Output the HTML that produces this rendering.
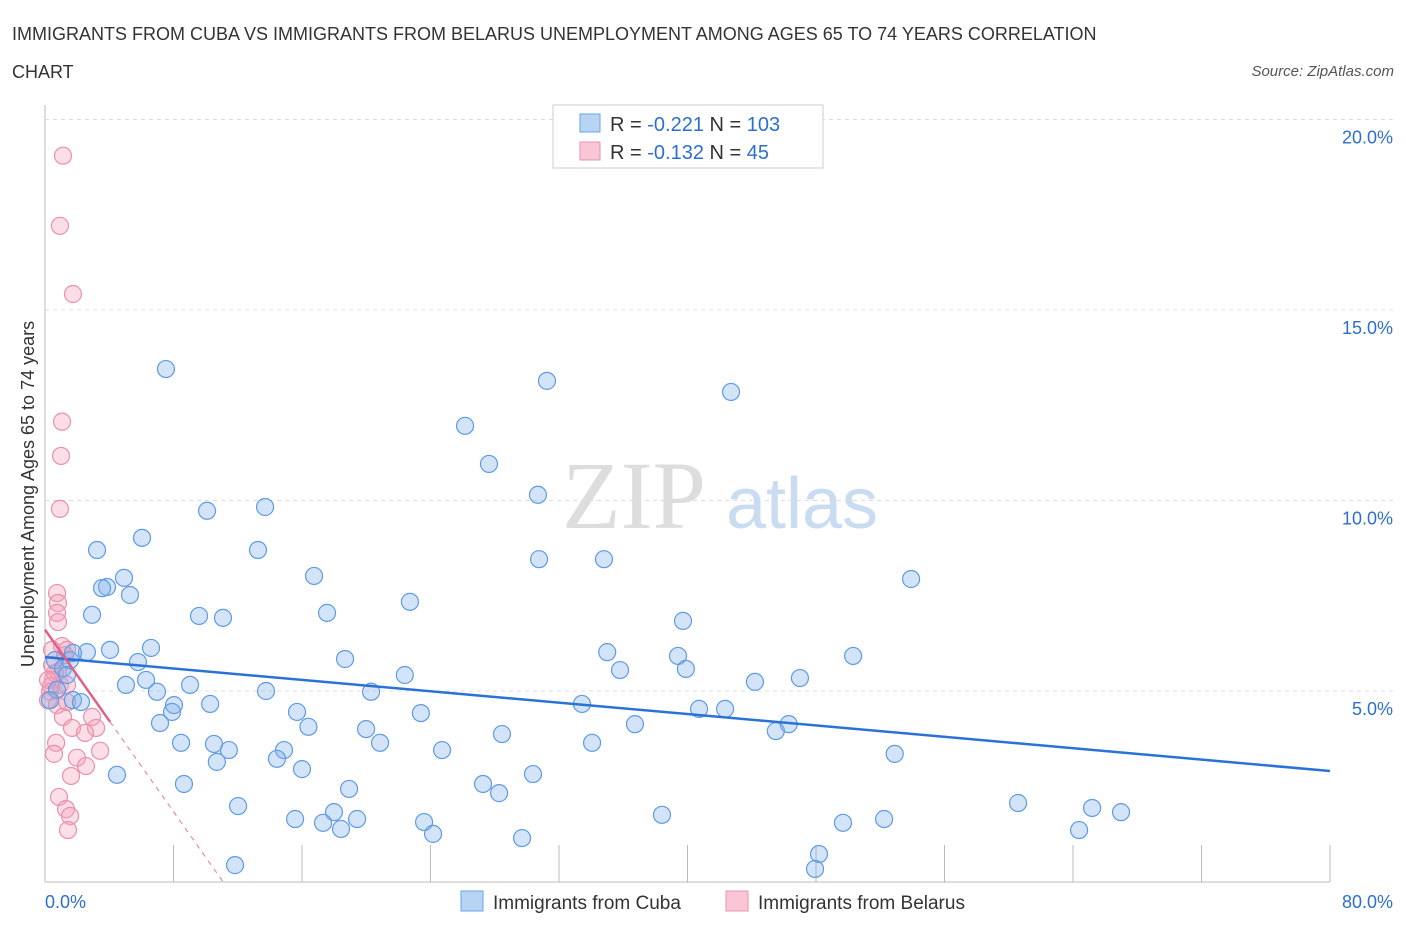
<!DOCTYPE html>
<html><head><meta charset="utf-8"><style>
body{margin:0;background:#fff;font-family:"Liberation Sans",sans-serif;}
svg{display:block}
</style></head><body>
<svg width="1406" height="930" xmlns="http://www.w3.org/2000/svg" id="chart">
<text x="12" y="40" font-size="18" fill="#333">IMMIGRANTS FROM CUBA VS IMMIGRANTS FROM BELARUS UNEMPLOYMENT AMONG AGES 65 TO 74 YEARS CORRELATION</text>
<text x="12" y="78" font-size="18" fill="#333">CHART</text>
<text x="1394" y="76" font-size="15" fill="#555" font-style="italic" text-anchor="end">Source: ZipAtlas.com</text>
<text x="634" y="528" font-size="96" fill="#ddd" font-family="Liberation Serif,serif" text-anchor="middle">ZIP</text>
<text x="802" y="528" font-size="72" fill="#c9dcf2" text-anchor="middle">atlas</text>
<g id="grid"></g>
<g id="pts"></g>
<g id="lines"></g>
<text transform="translate(34,494) rotate(-90)" font-size="18" fill="#333" text-anchor="middle">Unemployment Among Ages 65 to 74 years</text>
<g>
<rect x="553" y="105" width="270" height="63" fill="#fff" stroke="#ccc"/>
<rect x="580" y="114" width="20" height="18" fill="#b8d4f5" stroke="#6aa3e5"/>
<rect x="580" y="142" width="20" height="18" fill="#f8c6d4" stroke="#ec93ae"/>
<text x="610" y="131" font-size="20" fill="#333">R = <tspan fill="#2d6fd0">-0.221</tspan>   N = <tspan fill="#2d6fd0">103</tspan></text>
<text x="610" y="159" font-size="20" fill="#333">R = <tspan fill="#2d6fd0">-0.132</tspan>   N =   <tspan fill="#2d6fd0">45</tspan></text>
</g>
<g>
<rect x="461" y="891" width="22" height="20" fill="#b8d4f5" stroke="#6aa3e5"/>
<text x="493" y="909" font-size="19" fill="#333">Immigrants from Cuba</text>
<rect x="726" y="891" width="22" height="20" fill="#f8c6d4" stroke="#ec93ae"/>
<text x="758" y="909" font-size="19" fill="#333">Immigrants from Belarus</text>
</g>
<text x="45" y="908" font-size="18" fill="#2d6fd0">0.0%</text>
<text x="1393" y="908" font-size="18" fill="#2d6fd0" text-anchor="end">80.0%</text>
</svg>
<script>
const cubaX=[7.53,31.25,42.71,26.15,27.64,30.69,10.09,13.70,3.24,6.04,13.26,30.76,34.80,16.75,4.92,3.86,3.55,5.29,53.92,22.72,2.93,9.59,11.08,17.56,39.72,4.05,6.60,2.61,35.0,39.41,50.31,5.79,18.68,35.8,39.9,22.4,5.04,6.29,9.03,13.76,20.3,44.2,47.0,6.97,1.74,2.24,8.03,10.28,33.43,40.72,42.34,15.69,23.4,7.91,7.16,16.4,36.73,46.3,45.5,19.99,28.45,8.47,10.52,20.86,34.06,11.45,14.88,24.72,52.9,10.7,14.44,16.0,4.48,30.38,8.65,27.27,18.93,28.27,12.02,60.58,65.19,66.99,17.99,15.57,17.31,19.43,23.6,38.41,49.68,52.24,18.43,24.16,64.38,29.7,48.19,47.94,11.83,0.62,1.12,0.75,0.31,1.37,1.56,1.74];
const cubaY=[13.45,13.14,12.85,11.96,10.96,10.15,9.73,9.83,8.70,9.02,8.70,8.46,8.46,8.02,7.97,7.73,7.70,7.52,7.94,7.34,7.00,6.97,6.92,7.05,6.84,6.08,6.13,6.02,6.02,5.92,5.92,5.76,5.84,5.55,5.58,5.42,5.16,5.29,5.16,5.00,4.98,5.24,5.34,4.98,4.76,4.71,4.63,4.66,4.66,4.53,4.53,4.45,4.42,4.45,4.16,4.06,4.13,4.13,3.95,4.00,3.87,3.64,3.61,3.64,3.64,3.45,3.45,3.45,3.35,3.14,3.22,2.95,2.80,2.82,2.56,2.56,2.43,2.32,1.98,2.06,1.93,1.82,1.82,1.64,1.54,1.64,1.56,1.75,1.54,1.64,1.38,1.25,1.35,1.14,0.72,0.33,0.43,5.81,5.60,5.03,4.76,5.42,5.81,6.0];
const belX=[1.12,0.93,1.74,1.06,1.0,0.93,0.75,0.81,0.75,0.81,1.06,0.44,1.25,1.37,0.44,0.81,0.50,0.93,1.37,0.31,0.19,0.75,1.12,1.37,2.93,3.18,1.68,2.49,0.69,0.56,1.99,3.43,2.55,1.62,0.87,1.31,1.56,1.43,0.62,0.37,0.19];
const belY=[19.05,17.21,15.42,12.07,11.17,9.78,7.57,7.31,7.05,6.81,6.18,6.08,5.94,6.08,5.68,5.50,5.29,5.16,5.16,4.98,4.76,4.63,4.32,4.71,4.32,4.03,4.03,3.90,3.64,3.35,3.25,3.43,3.03,2.77,2.22,1.90,1.72,1.35,5.47,5.13,5.29];
const yTicks=[5,10,15,20];
const yTickLabels=["5.0%","10.0%","15.0%","20.0%"];
const xTicks=[0,8,16,24,32,40,48,56,64,72,80];
const cubaTrend=[5.89,2.90];
const belTrend=[6.61,4.05,11.07];
const NS="http://www.w3.org/2000/svg";
const sx=v=>45+v*1285/80, sy=v=>881.5-v*38.1;
function mk(t,a,p){const e=document.createElementNS(NS,t);for(const k in a)e.setAttribute(k,a[k]);p.appendChild(e);return e;}
const grid=document.getElementById('grid'),pts=document.getElementById('pts'),lines=document.getElementById('lines');
mk('line',{x1:45,y1:105,x2:45,y2:882,stroke:'#bbb'},grid);
mk('line',{x1:45,y1:882,x2:1330,y2:882,stroke:'#bbb'},grid);
yTicks.forEach((t,i)=>{
 const l=mk('line',{x1:45,y1:sy(t),x2:1395,y2:sy(t),stroke:'#ddd','stroke-dasharray':'4,4'},grid);
 
 
 const tx=mk('text',{x:1393,y:sy(t)+24,'font-size':18,fill:'#2d6fd0','text-anchor':'end'},grid);
 tx.textContent=yTickLabels[i];
 
 
});
xTicks.forEach(t=>{
 const l=mk('line',{x1:sx(t),y1:845,x2:sx(t),y2:882,stroke:'#bbb'},grid);
 
 
});
belX.forEach((x,i)=>{
 const c=mk('circle',{cx:sx(x),cy:sy(belY[i]),r:8.5,fill:'rgba(244,160,185,0.35)',stroke:'#ec8fab','stroke-width':1.2},pts);
 
 
});
cubaX.forEach((x,i)=>{
 const c=mk('circle',{cx:sx(x),cy:sy(cubaY[i]),r:8.5,fill:'rgba(130,175,235,0.35)',stroke:'#5f9be3','stroke-width':1.2},pts);
 
 
});
const bt=mk('line',{x1:sx(0),y1:sy(cubaTrend[0]),x2:sx(80),y2:sy(cubaTrend[1]),stroke:'#2b72d6','stroke-width':2.5},lines);


const slope=belTrend[0]/belTrend[2];
const pt=mk('line',{x1:sx(0),y1:sy(belTrend[0]),x2:sx(belTrend[1]),y2:sy(belTrend[0]-slope*belTrend[1]),stroke:'#e0608a','stroke-width':2.5},lines);


const pd=mk('line',{x1:sx(belTrend[1]),y1:sy(belTrend[0]-slope*belTrend[1]),x2:sx(belTrend[2]),y2:sy(0),stroke:'#e88aa8','stroke-width':1.2,'stroke-dasharray':'5,5'},lines);


</script>
</body></html>
